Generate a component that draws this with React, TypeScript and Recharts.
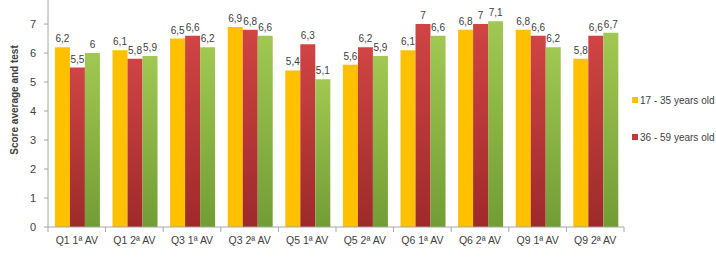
import { Bar, BarChart, LabelList, XAxis, YAxis } from 'recharts';

const categories = ['Q1 1ª AV', 'Q1 2ª AV', 'Q3 1ª AV', 'Q3 2ª AV', 'Q5 1ª AV', 'Q5 2ª AV', 'Q6 1ª AV', 'Q6 2ª AV', 'Q9 1ª AV', 'Q9 2ª AV'];
const young = [6.2, 6.1, 6.5, 6.9, 5.4, 5.6, 6.1, 6.8, 6.8, 5.8];
const middle = [5.5, 5.8, 6.6, 6.8, 6.3, 6.2, 7, 7, 6.6, 6.6];
const older = [6, 5.9, 6.2, 6.6, 5.1, 5.9, 6.6, 7.1, 6.2, 6.7];
const yTicks = [0, 1, 2, 3, 4, 5, 6, 7];

const seriesNames = ['17 - 35 years old', '36 - 59 years old', '60+ years old'];

const data = categories.map((name, i) => ({ name, young: young[i], middle: middle[i], older: older[i] }));

const W = 716;
const H = 257;
const margin = { top: 0, right: 92, bottom: 0, left: 0 };
const yAxisWidth = 48;
const band = (W - margin.right - yAxisWidth) / categories.length;

const font = '"Liberation Sans", Arial, sans-serif';
const textColor = '#404040';
const axisColor = '#A6A6A6';

const fmt = (v: any) => String(v).replace('.', ',');

function XTick(props: any) {
  const { x, y, payload, index } = props;
  const axisY = y - 8;
  return (
    <g>
      <line x1={x - band / 2} x2={x - band / 2} y1={axisY} y2={axisY + 5} stroke={axisColor} />
      {index === categories.length - 1 ? (
        <line x1={x + band / 2} x2={x + band / 2} y1={axisY} y2={axisY + 5} stroke={axisColor} />
      ) : null}
      <text x={x} y={y + 9} textAnchor="middle" fill={textColor} fontSize={10.5} fontFamily={font}>
        {payload.value}
      </text>
    </g>
  );
}

function LegendBox() {
  const items = [
    { name: seriesNames[0], color: '#FFC000' },
    { name: seriesNames[1], color: '#C0393B' },
  ];
  return (
    <div style={{ position: 'absolute', left: 632, top: 93, fontFamily: font, fontSize: 10, color: textColor, whiteSpace: 'nowrap' }}>
      {items.map((it, i) => (
        <div key={it.name} style={{ display: 'flex', alignItems: 'center', height: 14, marginBottom: i === 0 ? 23 : 0 }}>
          <span style={{ display: 'inline-block', width: 6, height: 6, background: it.color, marginRight: 2 }} />
          {it.name}
        </div>
      ))}
    </div>
  );
}

const labelStyle = { fill: textColor, fontSize: 10, fontFamily: font };

export default function App() {
  return (
    <div style={{ position: 'absolute', left: 0, top: 0, width: W, height: H, background: '#fff' }}>
      <BarChart width={W} height={H} data={data} margin={margin} barCategoryGap="12%" barGap={0}>
        <defs>
          <linearGradient id="gRed" x1="0" y1="0" x2="0" y2="1">
            <stop offset="0%" stopColor="#D04444" />
            <stop offset="100%" stopColor="#9E2A2A" />
          </linearGradient>
          <linearGradient id="gGreen" x1="0" y1="0" x2="0" y2="1">
            <stop offset="0%" stopColor="#A0C852" />
            <stop offset="100%" stopColor="#729D35" />
          </linearGradient>
        </defs>
        <XAxis
          dataKey="name"
          interval={0}
          height={30}
          tickLine={false}
          tickSize={5}
          tickMargin={3}
          axisLine={{ stroke: axisColor }}
          tick={<XTick />}
        />
        <YAxis
          width={yAxisWidth}
          domain={[0, 7.83]}
          ticks={yTicks}
          allowDataOverflow
          axisLine={{ stroke: axisColor }}
          tickLine={{ stroke: axisColor }}
          tickSize={4}
          tickMargin={8}
          tick={{ fill: textColor, fontSize: 11, fontFamily: font }}
        />
        <Bar dataKey="young" name={seriesNames[0]} fill="#FFC000" isAnimationActive={false}>
          <LabelList dataKey="young" position="top" offset={5} formatter={fmt} style={labelStyle} />
        </Bar>
        <Bar dataKey="middle" name={seriesNames[1]} fill="url(#gRed)" isAnimationActive={false}>
          <LabelList dataKey="middle" position="top" offset={5} formatter={fmt} style={labelStyle} />
        </Bar>
        <Bar dataKey="older" name={seriesNames[2]} fill="url(#gGreen)" isAnimationActive={false}>
          <LabelList dataKey="older" position="top" offset={5} formatter={fmt} style={labelStyle} />
        </Bar>
      </BarChart>
      <svg width={30} height={H} style={{ position: 'absolute', left: 0, top: 0 }}>
        <text
          x={18}
          y={100}
          transform="rotate(-90, 18, 100)"
          textAnchor="middle"
          fill={textColor}
          fontSize={10}
          fontWeight="bold"
          fontFamily={font}
        >
          Score average and test
        </text>
      </svg>
      <LegendBox />
    </div>
  );
}
